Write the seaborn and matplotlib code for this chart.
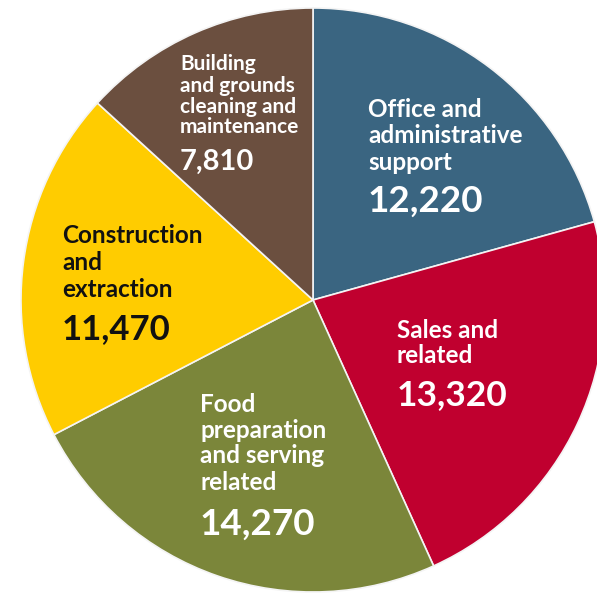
import matplotlib
matplotlib.use("Agg")
import matplotlib.pyplot as plt
import seaborn as sns

# Employment by occupation group
categories = [
    "Office and\nadministrative\nsupport",
    "Sales and\nrelated",
    "Food\npreparation\nand serving\nrelated",
    "Construction\nand\nextraction",
    "Building\nand grounds\ncleaning and\nmaintenance",
]
values = [12220, 13320, 14270, 11470, 7810]
colors = ["#3a6581", "#c0002f", "#7b863a", "#ffcc00", "#6b4f3f"]
text_colors = ["white", "white", "white", "#111111", "white"]

sns.set_theme(style="white")
plt.rcParams["font.family"] = ["Lato", "DejaVu Sans"]
palette = sns.color_palette(colors)

W, H = 597, 593
fig = plt.figure(figsize=(W / 100, H / 100), dpi=100)
cx, cy, R = 313, 300, 292
ax = fig.add_axes([(cx - R) / W, (H - cy - R) / H, 2 * R / W, 2 * R / H])

ax.pie(values, colors=palette, startangle=90, counterclock=False, radius=1,
       wedgeprops=dict(edgecolor="#f4f4f4", linewidth=1.2))
ax.set_xlim(-1, 1)
ax.set_ylim(-1, 1)
ax.axis("off")


def px(x, y):
    """Pixel position (from top-left) to pie data units."""
    return (x - cx) / R, (cy - y) / R


# label layout: left x, line baselines, number baseline, font sizes
layout = [
    dict(x=368, lines=[117, 143, 170], num=212, fs=17.5, nfs=26.5),
    dict(x=397, lines=[338, 363], num=405, fs=17.5, nfs=25.5),
    dict(x=200, lines=[412, 438, 463, 490], num=535, fs=17.5, nfs=26.5),
    dict(x=62, lines=[243, 270, 297], num=339, fs=17.5, nfs=25),
    dict(x=180, lines=[70, 92, 113, 133], num=170, fs=15, nfs=21),
]

for cat, val, tc, lay in zip(categories, values, text_colors, layout):
    for line, yb in zip(cat.split("\n"), lay["lines"]):
        x, y = px(lay["x"], yb)
        ax.text(x, y, line, color=tc, fontsize=lay["fs"], fontweight="bold",
                ha="left", va="baseline")
    x, y = px(lay["x"], lay["num"])
    ax.text(x, y, f"{val:,}", color=tc, fontsize=lay["nfs"], fontweight="bold",
            ha="left", va="baseline")

fig.savefig("out.png", dpi=100, facecolor="white")
